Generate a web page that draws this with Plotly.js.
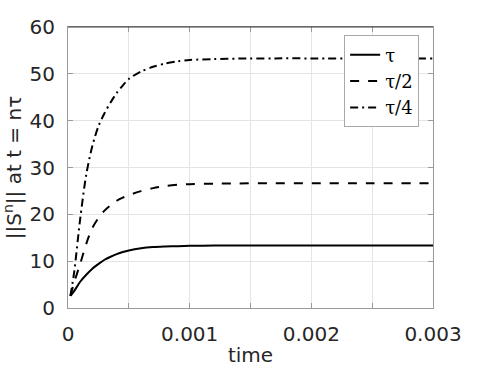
<!DOCTYPE html>
<html>
<head>
<meta charset="utf-8">
<script src="https://cdn.plot.ly/plotly-3.0.1.min.js"></script>
<style>
  html, body { margin: 0; padding: 0; background: #fff; }
  #plot { width: 478px; height: 367px; }
</style>
</head>
<body>
<div id="plot"></div>
<script>
// time samples (s)
const time = [0.00002, 0.00005, 0.0001, 0.00015, 0.0002, 0.00025, 0.0003, 0.00035, 0.0004, 0.00045,
              0.0005, 0.0006, 0.0007, 0.0008, 0.0009, 0.001, 0.0012, 0.0014, 0.0017, 0.002, 0.0025, 0.003];

// ||S^n|| for each step size
const normTau = [2.6, 3.6, 5.6, 7.1, 8.4, 9.4, 10.3, 10.95, 11.5, 11.95,
                 12.3, 12.75, 13.0, 13.12, 13.2, 13.27, 13.32, 13.34, 13.35, 13.35, 13.35, 13.35];
const normTau2 = [2.6, 5.4, 9.4, 13.7, 17.1, 19.2, 20.8, 21.95, 22.9, 23.55,
                  24.1, 24.95, 25.6, 26.05, 26.3, 26.45, 26.55, 26.6, 26.65, 26.65, 26.65, 26.65];
const normTau4 = [2.6, 7.5, 19.0, 28.5, 34.6, 38.8, 41.6, 43.9, 45.9, 47.5,
                  48.9, 50.5, 51.5, 52.2, 52.65, 52.95, 53.15, 53.25, 53.3, 53.3, 53.3, 53.3];

const seriesNames = ['τ', 'τ/2', 'τ/4'];

const yTickVals = [0, 10, 20, 30, 40, 50, 60];

const lineStyle = (dash) => ({ color: '#000', width: 2, dash: dash, shape: 'spline', smoothing: 0.8 });

const data = [
    { x: time, y: normTau, name: seriesNames[0], type: 'scatter', mode: 'lines', line: lineStyle('solid') },
    { x: time, y: normTau2, name: seriesNames[1], type: 'scatter', mode: 'lines', line: lineStyle('9px,9px') },
    { x: time, y: normTau4, name: seriesNames[2], type: 'scatter', mode: 'lines', line: lineStyle('8px,4px,2px,4px') },
];

const axisCommon = {
    showline: true,
    linecolor: '#9a9a9a',
    linewidth: 1,
    mirror: 'ticks',
    ticks: 'inside',
    ticklen: 5,
    tickcolor: '#9a9a9a',
    showgrid: true,
    gridcolor: '#e4e4e4',
    gridwidth: 1,
    zeroline: false,
    tickfont: { family: 'DejaVu Sans', size: 20, color: '#262626' },
};

const layout = {
    width: 478,
    height: 367,
    margin: { l: 68, r: 45, t: 27, b: 59 },
    paper_bgcolor: '#fff',
    plot_bgcolor: '#fff',
    showlegend: true,
    legend: {
        x: 0.962, y: 0.97, xanchor: 'right', yanchor: 'top',
        bgcolor: '#fff',
        bordercolor: '#a8a8a8',
        borderwidth: 1,
        font: { family: 'DejaVu Serif', size: 18, color: '#000' },
        tracegroupgap: 0,
    },
    xaxis: Object.assign({}, axisCommon, {
        range: [0, 0.003],
        tickmode: 'linear',
        tick0: 0,
        dtick: 0.001,
        minor: { dtick: 0.0005, ticks: 'inside', ticklen: 5, tickcolor: '#9a9a9a', showgrid: true, gridcolor: '#e4e4e4' },
        ticklabelstandoff: 8,
        title: { text: 'time', font: { family: 'DejaVu Sans', size: 20, color: '#262626' }, standoff: 18 },
        automargin: false,
    }),
    yaxis: Object.assign({}, axisCommon, {
        range: [0, 60],
        tickmode: 'array',
        tickvals: yTickVals,
        ticklabelstandoff: 8,
        title: { text: '||S<sup>n</sup>|| at t = nτ', font: { family: 'DejaVu Sans', size: 20, color: '#262626' }, standoff: 4 },
        automargin: false,
    }),
    shapes: [
        // darker top border as in the reference
        { type: 'line', xref: 'paper', yref: 'paper', x0: 0, x1: 1, y0: 1, y1: 1, line: { color: '#3a3a3a', width: 1 } },
    ],
};

Plotly.newPlot('plot', data, layout, { displayModeBar: false, staticPlot: true });
</script>
</body>
</html>
